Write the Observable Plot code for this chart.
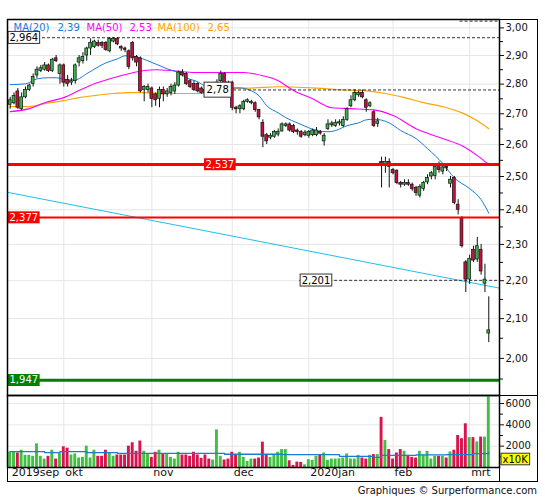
<!DOCTYPE html>
<html><head><meta charset="utf-8">
<script src="https://cdn.jsdelivr.net/npm/d3@7"></script>
<script src="https://cdn.jsdelivr.net/npm/@observablehq/plot@0.6"></script>
<style>
body{margin:0;background:#fff;font-family:"DejaVu Sans",sans-serif;}
#wrap{position:relative;width:545px;height:500px;}
#wrap svg{display:block;position:absolute;left:0;}
.bx{position:absolute;pointer-events:none;box-sizing:border-box;}
#credit{position:absolute;right:8px;top:485px;font:10px "DejaVu Sans",sans-serif;color:#111;white-space:nowrap;}
</style></head><body>
<div id="wrap"></div>
<script>
// ---------- data ----------
const open = [2.73,2.735,2.775,2.715,2.755,2.78,2.80,2.83,2.845,2.85, 2.865,2.845,2.89,2.835,2.865,2.815,2.805,2.81,2.875,2.88, 2.90,2.925,2.93,2.945,2.945,2.945,2.915,2.95,2.96,2.93, 2.925,2.915,2.945,2.895,2.89,2.78,2.78,2.785,2.765,2.75, 2.78,2.765,2.77,2.775,2.795,2.84,2.835,2.81,2.80,2.80, 2.785,2.78,2.78,2.77,2.795,2.81,2.835,2.805,2.805,2.72, 2.715,2.715,2.74,2.735,2.735,2.712,2.67,2.63,2.622,2.625, 2.632,2.642,2.66,2.665,2.66,2.645,2.64,2.63,2.628,2.63, 2.63,2.64,2.61,2.65,2.662,2.66,2.668,2.66,2.68,2.725, 2.745,2.762,2.77,2.745,2.725,2.705,2.667,2.545,2.535,2.545, 2.52,2.518,2.48,2.475,2.48,2.475,2.465,2.442,2.462,2.482, 2.50,2.502,2.535,2.515,2.53,2.478,2.495,2.415,2.375,2.25, 2.203,2.285,2.258,2.285,2.192,2.062];
const high = [2.755,2.77,2.785,2.77,2.79,2.80,2.835,2.86,2.865,2.875, 2.87,2.89,2.90,2.87,2.87,2.83,2.82,2.87,2.90,2.91, 2.93,2.96,2.955,2.955,2.95,2.95,2.965,2.965,2.965,2.935, 2.93,2.92,2.95,2.90,2.895,2.795,2.80,2.79,2.77,2.79, 2.79,2.785,2.80,2.805,2.845,2.85,2.84,2.815,2.81,2.805, 2.79,2.785,2.785,2.785,2.815,2.845,2.84,2.81,2.81,2.725, 2.73,2.745,2.75,2.745,2.74,2.715,2.68,2.635,2.635,2.645, 2.65,2.67,2.67,2.67,2.665,2.65,2.645,2.645,2.645,2.65, 2.655,2.645,2.635,2.68,2.675,2.68,2.68,2.69,2.72,2.76, 2.78,2.775,2.78,2.75,2.74,2.71,2.685,2.56,2.56,2.555, 2.525,2.52,2.485,2.49,2.49,2.48,2.47,2.475,2.485,2.505, 2.515,2.54,2.545,2.54,2.54,2.50,2.50,2.43,2.38,2.255, 2.27,2.295,2.32,2.30,2.245,2.157];
const low = [2.715,2.73,2.715,2.71,2.75,2.775,2.79,2.82,2.84,2.845, 2.84,2.84,2.875,2.80,2.79,2.79,2.795,2.80,2.86,2.87, 2.88,2.90,2.925,2.93,2.925,2.915,2.91,2.945,2.935,2.915, 2.91,2.85,2.88,2.86,2.77,2.74,2.77,2.72,2.725,2.72, 2.74,2.755,2.76,2.765,2.79,2.825,2.795,2.785,2.775,2.77, 2.765,2.765,2.76,2.765,2.79,2.805,2.79,2.785,2.71,2.70, 2.70,2.71,2.735,2.73,2.705,2.68,2.59,2.60,2.615,2.62, 2.625,2.64,2.655,2.64,2.635,2.63,2.62,2.625,2.62,2.625, 2.625,2.63,2.595,2.645,2.655,2.655,2.66,2.655,2.675,2.72, 2.74,2.755,2.75,2.705,2.72,2.655,2.655,2.465,2.51,2.465, 2.505,2.475,2.465,2.47,2.47,2.455,2.44,2.435,2.455,2.475, 2.49,2.49,2.51,2.505,2.515,2.465,2.415,2.385,2.29,2.168, 2.19,2.25,2.25,2.215,2.168,2.039];
const close = [2.745,2.76,2.72,2.755,2.78,2.795,2.825,2.85,2.855,2.865, 2.845,2.885,2.88,2.865,2.805,2.80,2.81,2.865,2.89,2.895, 2.925,2.945,2.95,2.935,2.935,2.92,2.96,2.96,2.94,2.925, 2.92,2.86,2.89,2.875,2.775,2.79,2.79,2.75,2.745,2.78, 2.765,2.775,2.79,2.795,2.84,2.83,2.80,2.79,2.78,2.775, 2.77,2.77,2.77,2.78,2.805,2.835,2.80,2.79,2.72,2.715, 2.725,2.74,2.745,2.74,2.712,2.688,2.625,2.61,2.628,2.64, 2.64,2.665,2.665,2.645,2.64,2.64,2.625,2.638,2.64,2.645, 2.645,2.635,2.628,2.665,2.668,2.67,2.672,2.68,2.715,2.745, 2.77,2.77,2.755,2.72,2.735,2.66,2.675,2.54,2.545,2.53, 2.51,2.48,2.475,2.48,2.475,2.462,2.45,2.468,2.48,2.495, 2.51,2.53,2.52,2.528,2.525,2.49,2.42,2.40,2.295,2.203, 2.26,2.255,2.295,2.225,2.203,2.07];
const volume = [1460,1460,1360,1620,1140,1140,1050,2220,1050,790, 1050,1620,790,1300,1940,1810,1170,1270,890,950, 2000,890,1620,1050,1050,1620,1360,1050,1170,1170, 1170,2000,2320,1520,2480,1520,1270,950,1430,1620, 1270,1270,950,790,1430,1170,1170,1050,1430,1170, 860,1170,790,700,3520,1050,700,790,1430,1170, 1430,950,570,790,790,890,2380,1170,950,1170, 1430,1680,1680,630,190,510,480,250,730,670, 1050,1140,1360,670,790,790,820,890,1270,790, 790,1140,890,790,1140,1210,1210,4700,2540,1680, 790,1360,1680,1520,1140,950,890,1520,1140,1520, 790,1050,1050,1050,890,1460,1620,3000,2700,4100, 2800,2800,2400,2850,2850,6700];

// moving averages (trading-day index, value)
const ma20Idx = [0,4,7,10,12,15,17,20,23,25,28,30,33,36,38,41,44,46,49,51,54,57,60,63,65,67,70,72,75,78,80,83,85,88,91,93,95,99,102,106,109,113,116,120,123,125];
const ma20Val = [2.798,2.801,2.818,2.822,2.822,2.815,2.815,2.836,2.86,2.874,2.888,2.899,2.895,2.881,2.87,2.853,2.839,2.822,2.808,2.794,2.792,2.787,2.787,2.777,2.76,2.727,2.703,2.687,2.67,2.654,2.645,2.641,2.645,2.661,2.67,2.68,2.682,2.67,2.645,2.619,2.587,2.54,2.496,2.463,2.43,2.39];
const ma50Idx = [0,5,9,14,18,22,27,31,35,38,42,45,50,55,61,66,70,74,79,84,89,95,100,106,113,118,122,125];
const ma50Val = [2.707,2.717,2.737,2.754,2.778,2.801,2.822,2.836,2.847,2.85,2.847,2.843,2.84,2.84,2.84,2.829,2.812,2.778,2.75,2.72,2.717,2.713,2.694,2.651,2.619,2.596,2.565,2.537];
const ma100Idx = [0,5,9,14,18,22,27,31,35,40,45,50,57,64,70,79,86,93,98,103,108,114,118,122,125];
const ma100Val = [2.724,2.724,2.734,2.744,2.754,2.761,2.768,2.771,2.771,2.768,2.768,2.768,2.784,2.787,2.791,2.787,2.781,2.777,2.768,2.754,2.737,2.72,2.703,2.677,2.651];
const maNames = ["MA(20)","MA(50)","MA(100)"];
const maLast = [2.39, 2.53, 2.65];

// volume moving average (step line)
const volMaIdx = [0,9,13,20,28,56,71,86,95,97,106,114,121,125];
const volMaVal = [1490,1400,1490,1400,1330,1240,1210,1050,950,1130,1180,1210,1300,1400];

// long trend line
const trendIdx = [-0.7, 127.8];
const trendVal = [2.452, 2.180];

// horizontal levels
const dashedLevels = [2.964, 2.78, 2.201, 3.025];
const redLevels = [2.537, 2.377];
const greenLevels = [1.947];

// axis ticks / labels
const priceTicks = [2.0,2.1,2.2,2.3,2.4,2.5,2.6,2.7,2.8,2.9,3.0];
const priceMinor = [1.95,2.05,2.15,2.25,2.35,2.45,2.55,2.65,2.75,2.85,2.95];
const volTicks = [2000,4000,6000];
const volMinor = [1000,3000,5000];
const monthLabels = ["2019sep","okt","nov","dec","2020jan","feb","mrt"];
const monthIdx = [0,14,37,58,78,100,120];

// ---------- build ----------
const xDomain = [-0.7, 127.8];
const UP = "#3bb54a", DOWN = "#c8103c";
const VUP = "#40c040", VDOWN = "#d8134f";
const BLUE = "#1a7ad4", MAG = "#ff00ff", ORA = "#ffa500";
const GRID = "#e6e6e6";
const fmt2 = d => d.toFixed(2).replace(".", ",");
const fmtLvl = d => String(d).replace(".", ",");

const candles = close.map((c, i) => ({i, o: open[i], h: high[i], l: low[i], c}));
const pts = (xs, ys) => xs.map((x, k) => ({x, y: ys[k]}));
const baseStyle = {fontFamily: "'DejaVu Sans', sans-serif", fontSize: "10px", color: "#111", background: "transparent", overflow: "visible"};

// label placement (layout, not data)
const lblPos = {2.964: xDomain[0], 2.78: 50.5, 2.201: 75.6, 2.537: 50.5, 2.377: xDomain[0], 1.947: xDomain[0]};
const whiteLbl = [2.964, 2.201];
const bigLbl = [2.78];
const legDy = 4.5;

const price = Plot.plot({
  width: 545, height: 395,
  marginTop: 19, marginBottom: 0, marginLeft: 7, marginRight: 46,
  style: baseStyle,
  x: {domain: xDomain, axis: null},
  y: {type: "log", domain: [1.911, 3.031], axis: null},
  marks: [
    Plot.gridY(priceTicks, {stroke: GRID, strokeOpacity: 1}),
    Plot.gridX(monthIdx.slice(1), {stroke: GRID, strokeOpacity: 1}),
    Plot.line(pts(trendIdx, trendVal), {x: "x", y: "y", stroke: "#1fbef0", strokeWidth: 1}),
    Plot.line(pts(ma100Idx, ma100Val), {x: "x", y: "y", stroke: ORA, strokeWidth: 1.2, curve: "monotone-x"}),
    Plot.line(pts(ma50Idx, ma50Val), {x: "x", y: "y", stroke: MAG, strokeWidth: 1.1, curve: "monotone-x"}),
    Plot.line(pts(ma20Idx, ma20Val), {x: "x", y: "y", stroke: BLUE, strokeWidth: 1, curve: "monotone-x"}),
    Plot.ruleY(dashedLevels, {y: d => d, x1: d => (d === 3.025 ? 117.5 : (lblPos[d] ?? xDomain[0])), x2: xDomain[1], stroke: "#333", strokeWidth: 1, strokeDasharray: "3,2"}),
    Plot.ruleX(candles, {x: "i", y1: "l", y2: "h", stroke: "#111", strokeWidth: 1}),
    Plot.rect(candles, {x1: d => d.i - 0.37, x2: d => d.i + 0.37, y1: d => Math.min(d.o, d.c), y2: d => Math.max(d.o, d.c), fill: d => d.c >= d.o ? UP : DOWN, stroke: "#111", strokeWidth: 0.7}),
    Plot.ruleY([redLevels[0]], {stroke: "#ff0000", strokeWidth: 3}),
    Plot.ruleY([redLevels[1]], {stroke: "#ff0000", strokeWidth: 2}),
    Plot.ruleY(greenLevels, {stroke: "#008000", strokeWidth: 3}),
    Plot.axisY(priceTicks, {anchor: "right", tickSize: 4, tickPadding: 2, tickFormat: fmt2, color: "#111", fontSize: 10}),
    Plot.axisY(priceMinor, {anchor: "right", tickSize: 3, tickFormat: () => "", color: "#111"}),
    // level labels
    Plot.text(whiteLbl, {x: d => lblPos[d], y: d => d, text: fmtLvl, textAnchor: "start", dx: 2, fill: "#000", fontSize: 10, ariaDescription: "box-white"}),
    Plot.text(bigLbl, {x: d => lblPos[d], y: d => d, text: fmtLvl, textAnchor: "start", dx: 3, fill: "#000", fontSize: 10, ariaDescription: "box-white-big"}),
    Plot.text(redLevels, {x: d => lblPos[d], y: d => d, text: fmtLvl, textAnchor: "start", dx: 2, fill: "#fff", fontSize: 10, ariaDescription: "box-red"}),
    Plot.text(greenLevels, {x: d => lblPos[d], y: d => d, text: fmtLvl, textAnchor: "start", dx: 2, fill: "#fff", fontSize: 10, ariaDescription: "box-green"}),
    // legend
    Plot.text([maNames[0]], {frameAnchor: "top-left", dx: 6, dy: legDy, textAnchor: "start", fill: BLUE, fontSize: 10}),
    Plot.text([fmt2(maLast[0])], {frameAnchor: "top-left", dx: 50, dy: legDy, textAnchor: "start", fill: BLUE, fontSize: 10}),
    Plot.text([maNames[1]], {frameAnchor: "top-left", dx: 79, dy: legDy, textAnchor: "start", fill: MAG, fontSize: 10}),
    Plot.text([fmt2(maLast[1])], {frameAnchor: "top-left", dx: 122, dy: legDy, textAnchor: "start", fill: MAG, fontSize: 10}),
    Plot.text([maNames[2]], {frameAnchor: "top-left", dx: 150, dy: legDy, textAnchor: "start", fill: ORA, fontSize: 10}),
    Plot.text([fmt2(maLast[2])], {frameAnchor: "top-left", dx: 200, dy: legDy, textAnchor: "start", fill: ORA, fontSize: 10}),
    Plot.frame({stroke: "#000", strokeWidth: 1.5})
  ]
});

const bars = volume.map((v, i) => ({i, v, up: close[i] >= open[i]}));
const vol = Plot.plot({
  width: 545, height: 88,
  marginTop: 0, marginBottom: 16, marginLeft: 7, marginRight: 46,
  style: baseStyle,
  x: {domain: xDomain, axis: null},
  y: {domain: [0, 6750], axis: null},
  marks: [
    Plot.gridY(volTicks, {stroke: GRID, strokeOpacity: 1}),
    Plot.gridX(monthIdx.slice(1), {stroke: GRID, strokeOpacity: 1}),
    Plot.rectY(bars, {x1: d => d.i - 0.38, x2: d => d.i + 0.38, y: "v", fill: d => d.up ? VUP : VDOWN}),
    Plot.line(pts(volMaIdx, volMaVal), {x: "x", y: "y", curve: "step-after", stroke: BLUE, strokeWidth: 1.3}),
    Plot.axisY(volTicks, {anchor: "right", tickSize: 4, tickPadding: 2, tickFormat: d => String(d), color: "#111", fontSize: 10}),
    Plot.axisY(volMinor, {anchor: "right", tickSize: 3, tickFormat: () => "", color: "#111"}),
    Plot.text(monthLabels, {x: (d, k) => monthIdx[k], frameAnchor: "bottom", dy: 8, dx: 1.5, textAnchor: "start", fill: "#111", fontSize: 11}),
    Plot.text(["x10K"], {frameAnchor: "bottom-right", dx: 3, dy: -5, textAnchor: "start", fill: "#000", fontSize: 10, ariaDescription: "box-yellow"}),
    Plot.frame({stroke: "#000", strokeWidth: 1.5})
  ]
});

const wrap = document.getElementById("wrap");
price.style.top = "0px";
vol.style.top = "395px";
wrap.appendChild(price);
wrap.appendChild(vol);

function boxify(svg, desc, fill, stroke, padX, padY) {
  svg.querySelectorAll(`g[aria-description="${desc}"] text`).forEach(t => {
    const b = t.getBBox();
    const r = document.createElementNS("http://www.w3.org/2000/svg", "rect");
    r.setAttribute("x", b.x - padX);
    r.setAttribute("y", b.y - padY);
    r.setAttribute("width", b.width + 2 * padX);
    r.setAttribute("height", b.height + 2 * padY);
    r.setAttribute("fill", fill);
    if (stroke) { r.setAttribute("stroke", stroke); r.setAttribute("stroke-width", 1); }
    const tr = t.getAttribute("transform");
    if (tr) r.setAttribute("transform", tr);
    t.parentNode.insertBefore(r, t);
  });
}
boxify(price, "box-white", "#fff", "#333", 1.5, 0.5);
boxify(price, "box-white-big", "#fff", "#333", 2.5, 2);
boxify(price, "box-red", "#ff0000", null, 1.5, 0.5);
boxify(price, "box-green", "#008000", null, 1.5, 0.5);
boxify(vol, "box-yellow", "#ffff00", "#333", 1.5, 0.3);

// outer frame pieces
function line(l, t, w, h, css) {
  const d = document.createElement("div");
  d.className = "bx";
  d.style.cssText += `left:${l}px;top:${t}px;width:${w}px;height:${h}px;${css}`;
  wrap.appendChild(d);
}
line(7, 19, 531, 463, "border:1.5px solid #000;");
line(499, 394.5, 39, 0, "border-top:1.5px solid #000;");
line(498.5, 467, 0, 15, "border-left:1.5px solid #000;");

const credit = document.createElement("div");
credit.id = "credit";
credit.textContent = "Graphiques © Surperformance.com";
wrap.appendChild(credit);
</script>
</body></html>
